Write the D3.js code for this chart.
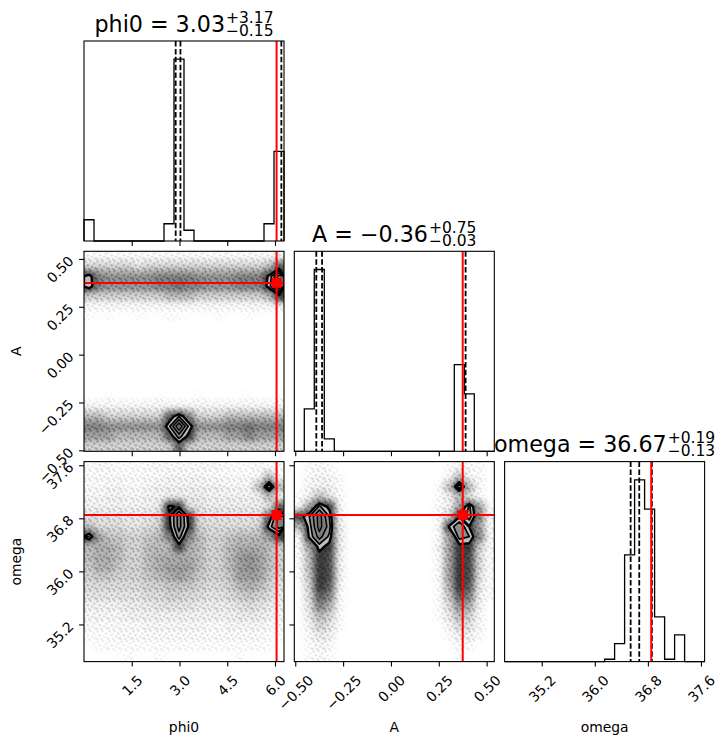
<!DOCTYPE html>
<html>
<head>
<meta charset="utf-8">
<title>corner plot</title>
<script src="https://cdn.jsdelivr.net/npm/d3@7"></script>
<style>
body { margin: 0; background: #fff; }
text { font-family: "DejaVu Sans", sans-serif; fill: #000; }
.axis text { font-size: 13.9px; font-family: "DejaVu Sans", sans-serif; }
.axis line { stroke: #000; stroke-width: 1.1; }
.frame { fill: none; stroke: #000; stroke-width: 1.1; }
.hist { fill: none; stroke: #000; stroke-width: 1.3; }
.quant { stroke: #000; stroke-width: 1.8; stroke-dasharray: 5.5,2.4; }
.truth { stroke: #f00; stroke-width: 2; }
.ct { stroke: #000; stroke-linejoin: round; }
.label { font-size: 13.9px; }
</style>
</head>
<body>
<script>
// parameter names and ranges (range = bin range of the histograms)
var labels = ["phi0", "A", "omega"];
var ranges = [[0, 6.2832], [-0.505, 0.54], [34.64, 37.655]];
var tickVals = [[1.5, 3.0, 4.5, 6.0], [-0.5, -0.25, 0, 0.25, 0.5], [35.2, 36.0, 36.8, 37.6]];
var tickFmt = [".1f", ".2f", ".1f"];
var truths = [6.05, 0.375, 36.85];
var quantiles = [[2.88, 3.03, 6.20], [-0.39, -0.36, 0.39], [36.54, 36.67, 36.86]];
var titleMid = ["3.03", "\u22120.36", "36.67"];
var titlePlus = ["3.17", "0.75", "0.19"];
var titleMinus = ["0.15", "0.03", "0.13"];

// 1d histograms, 20 bins each (relative counts)
var histPhi0 = [117, 0, 0, 0, 0, 0, 0, 0, 95, 1000, 59, 0, 0, 0, 0, 0, 0, 0, 95, 493];
var histA = [0, 233, 1000, 68, 0, 0, 0, 0, 0, 0, 0, 0, 0, 0, 0, 0, 477, 316, 0, 0];
var histOmega = [0, 0, 0, 0, 0, 0, 0, 0, 0, 0, 13, 99, 587, 1000, 839, 246, 13, 147, 0, 0];

// 2d histograms, 20x20, rows from top (high y) to bottom, columns left to right
var gridAPhi0 = [
  [1,1,1,1,1,1,1,1,1,1,1,1,1,1,1,1,1,1,1,1.5],
  [4,4,4,4,4,3,4,4,4,4,4,4,4,4,4,4,4,4,5,8],
  [11,7,6.5,6.5,6.5,6.5,6.5,7,7,7,7,6.5,6.5,6.5,6.5,7,7,7,10.5,17],
  [11.5,7,6.5,6.5,6.5,6.5,6.5,7,7,7.5,7,7,6.5,6.5,6.5,7,7,7,11,18],
  [4,4,4,4,4,4,4,4,5,5,5,4,4,4,4,4,4,4,5,9],
  [1,1,1,1,1,1,1,1,1,1,1,1,1,1,1,1,1,1,1,1.5],
  [0.3,0,0.3,0,0,0.3,0,0,0.3,0.3,0,0,0,0.3,0,0,0.3,0,0,0],
  [0,0,0,0,0,0,0,0,0,0,0,0,0,0,0,0,0,0,0,0],
  [0,0,0,0,0,0,0,0,0,0,0,0,0,0,0,0,0,0,0,0],
  [0,0,0,0,0,0,0,0,0,0,0,0,0,0,0,0,0,0,0,0],
  [0,0,0,0,0,0,0,0,0,0,0,0,0,0,0,0,0,0,0,0],
  [0,0,0,0,0,0,0,0,0,0,0,0,0,0,0,0,0,0,0,0],
  [0,0,0,0,0,0,0,0,0,0,0,0,0,0,0,0,0,0,0,0],
  [0,0,0,0,0,0,0,0,0,0,0,0,0,0,0,0,0,0,0,0],
  [0,0,0.3,0,0,0,0,0.3,0,0,0,0.3,0,0,0,0,0.3,0,0,0.3],
  [1.5,1.5,1.5,1.5,1.5,1.5,1.5,1.5,1.5,1.5,1.5,1.5,1.5,1.5,1.5,1.5,1.5,1.5,1.5,1.5],
  [5,5,4,4,4,4,4,4,8,12,7,4,4,4,5,5,5,5,5,5],
  [7,7,6.5,6.5,6.5,6.5,6.5,6.5,11.5,18,11.5,6.5,6.5,6.5,7,7,7.5,7,7,7],
  [6,6,6,5,5,5,5,5,8,13,9,5,5,5,6,6,7,6,6,6],
  [4,4,4,4,4,4,4,4,4,8,4,4,4,4,4,4,4,4,4,4]
];
var gridOmegaPhi0 = [
  [0.5,1,1,0.5,0.5,0.5,1,1,1,1,1,1,1,1,0.5,0.5,0.5,1,0.5,0.5],
  [1,1,1,1,1,1,1,1,1.5,1.5,1.5,1.5,1,1,1,1,1,1,5,1],
  [1,1,1.5,1.5,1,1,1.5,2,2,2,2,2,2,2,1.5,1.5,1.5,5,14,5],
  [1.5,1.5,2,2,1.5,1.5,2,2,2.5,2.5,2.5,2.5,2,2,2,2,2,2,5,1.5],
  [2,2,2,2,2,2,2,2.5,10.5,9.5,3,3,2.5,2.5,2.5,2.5,2.5,2.5,3,8],
  [3,3,3,3,2.5,2.5,3,3.5,9.5,15,9,3.5,3,3,3,3,3,3,8,15],
  [5,3.5,3.5,3.5,3,3,3.5,4,9,15,9.5,4,3.5,3.5,3.5,3.5,3.5,4,11,15],
  [12,6,4.5,4.5,4,4,4.5,5,7,13,7,5,4,4,4.5,5,5,5,6,9],
  [5,5.5,5.5,5,4,4,5,5,5,9,5.5,5,4,4,5,5.5,5.5,5.5,5,4],
  [5,5.5,5.5,5,4,4,5,5.5,5.5,5.5,5.5,5,4,4,5,6,6.5,6,5,4],
  [4.5,5.5,5.5,4.5,4,4,5,5.5,6,6,6,5,4,4,5,6,6.5,6,5,4],
  [4,4.5,4.5,4,4,4,4.5,5,5.5,6,5.5,4.5,4,4,4.5,6,6,6,4.5,3.5],
  [3.5,3.5,3.5,3.5,3.5,3.5,4,4,4.5,4.5,4.5,4,3.5,3.5,4,5,5.5,5,4,3],
  [3,3,3,3,3,3,3.5,3.5,4,4,3.5,3.5,3,3,3.5,4,4.5,4,3.5,2.5],
  [2,2,2,2,2.5,2.5,2.5,3,3,3,3,2.5,2.5,2.5,2.5,3,3.5,3,2.5,2],
  [1.5,1.5,1.5,1.5,2,2,2,2,2,2,2,2,2,2,2,2.5,2.5,2.5,2,1.5],
  [1,1,1,1,1,1,1.5,1.5,1.5,1.5,1.5,1.5,1,1,1.5,1.5,1.5,1.5,1,1],
  [0.5,0.5,0.5,1,1,1,1,1,1,1,1,1,1,1,1,1,1,1,0.5,0.5],
  [0,0.5,0.5,0.5,0.5,0.5,0.5,0.5,0.5,0.5,0.5,0.5,0.5,0.5,0.5,0.5,0.5,0.5,0.5,0],
  [0,0,0,0,0.5,0,0,0.5,0,0,0,0,0,0,0,0.5,0,0,0,0]
];
var gridOmegaA = [
  [0,0.5,1,0.5,0,0,0,0,0,0,0,0,0,0,0,0.5,1,1,0.5,0],
  [0,1,1.5,1.5,0.5,0,0,0,0,0,0,0,0,0,0,1,5,1,1,0],
  [0,1.5,2,2,0.5,0,0,0,0,0,0,0,0,0,0.5,5,14,5,1,0],
  [0.5,2,5,3,1,0,0,0,0,0,0,0,0,0,0.5,2,5,3,1,0],
  [1,6,12.5,9,1.5,0,0,0,0,0,0,0,0,0,1,2,6,12.5,6,0.5],
  [8.5,12,17,12,2,0,0,0,0,0,0,0,0,0,1,4,9.8,13,7,1],
  [5,11,17,13,2.5,0,0,0,0,0,0,0,0,0,1,10.5,14,9.9,6,1],
  [1,10.5,15,11.5,2.5,0,0,0,0,0,0,0,0,0,1,6,13,12,7,1],
  [1,6,11,9,2.5,0,0,0,0,0,0,0,0,0,2,6,9,9,4,1],
  [0.5,5,9,8.5,2,0,0,0,0,0,0,0,0,0,1,6,9,8.5,3.5,0.5],
  [0.5,5,9,8.5,2,0,0,0,0,0,0,0,0,0,1,6,9,8.5,3.5,0.5],
  [0.5,4.5,9,8.5,2,0,0,0,0,0,0,0,0,0,1,6,9,8.5,3,0.5],
  [0,4,9,8,1.5,0,0,0,0,0,0,0,0,0,0.5,5.5,9,8,2.5,0.5],
  [0,3.5,8,7,1,0,0,0,0,0,0,0,0,0,0.5,4.5,8,7,2,0.5],
  [0,3,7,5.5,1,0,0,0,0,0,0,0,0,0,0.5,3.5,6.5,5.5,1.5,0],
  [0,2.5,5,4,0.5,0,0,0,0,0,0,0,0,0,0.5,2.5,5,4,1,0],
  [0,1.5,4,3,0.5,0,0,0,0,0,0,0,0,0,0,1.5,3.5,3,1,0],
  [0,1,2.5,2,0,0,0,0,0,0,0,0,0,0,0,0.5,2,2,0.5,0],
  [0,0.5,1.5,1,0,0,0,0,0,0,0,0,0,0,0,0,1,0.5,0,0],
  [0,0.5,1,0.5,0,0,0,0,0,0,0,0,0,0,0,0,0.5,0,0,0]
];
var contourLevels = [10, 12, 14, 16];

var hists = [histPhi0, histA, histOmega];
var grids = {"1-0": gridAPhi0, "2-0": gridOmegaPhi0, "2-1": gridOmegaA};

var width = 725, height = 745;
var padLeft = 84, padTop = 41, size = 200, step = 210.3;
var ctFill = ["#bdbdbd", "#8f8f8f", "#7c7c7c", "#6a6a6a"];
var ctWidth = [2.3, 1.7, 1.5, 1.3];

var svg = d3.select("body").append("svg")
  .attr("width", width)
  .attr("height", height);

var defs = svg.append("defs");
defs.append("filter").attr("id", "blur")
  .attr("x", "-20%").attr("y", "-20%").attr("width", "140%").attr("height", "140%")
  .append("feGaussianBlur").attr("stdDeviation", 3.4);

var pat = defs.append("pattern").attr("id", "speckle")
  .attr("patternUnits", "userSpaceOnUse")
  .attr("width", 12).attr("height", 10);
[[1.5,1.5],[6.5,0.8],[10.2,3.6],[3.8,5.2],[8.1,6.6],[0.9,8.7],[5.3,9.3],[11.3,8.2]].forEach(function(p) {
  pat.append("circle").attr("cx", p[0]).attr("cy", p[1]).attr("r", 1.2)
    .attr("fill", "#000").attr("fill-opacity", 0.32);
});

function xScale(j) {
  var x0 = padLeft + j * step;
  return d3.scaleLinear().domain(ranges[j]).range([x0, x0 + size]);
}
function yScale(i) {
  var y0 = padTop + i * step;
  return d3.scaleLinear().domain(ranges[i]).range([y0 + size, y0]);
}

// shade of one cell of the point cloud
var shadeBase = function(v) { return Math.pow(Math.min(v, 9) / 9, 2) * 0.8; };
var shadeMask = function(v) { return Math.sqrt(Math.min(v, 9) / 9); };

function cellRects(g, xs, ys, grid, color, shade) {
  var nx = grid[0].length, ny = grid.length;
  var x0 = xs.domain()[0], x1 = xs.domain()[1];
  var y0 = ys.domain()[0], y1 = ys.domain()[1];
  var dx = (x1 - x0) / nx, dy = (y1 - y0) / ny;
  var cells = [];
  grid.forEach(function(row, r) {
    row.forEach(function(v, c) { if (v > 0) cells.push({r: r, c: c, v: v}); });
  });
  g.selectAll("rect").data(cells).join("rect")
    .attr("x", function(d) { return xs(x0 + d.c * dx) - (d.c === 0 ? 12 : 0); })
    .attr("y", function(d) { return ys(y1 - d.r * dy) - (d.r === 0 ? 12 : 0); })
    .attr("width", function(d) { return xs(x0 + (d.c + 1) * dx) - xs(x0 + d.c * dx) + (d.c === 0 || d.c === nx - 1 ? 12 : 0); })
    .attr("height", function(d) { return ys(y1 - (d.r + 1) * dy) - ys(y1 - d.r * dy) + (d.r === 0 || d.r === ny - 1 ? 12 : 0); })
    .attr("fill", color)
    .attr("fill-opacity", function(d) { return shade(d.v); });
}

function draw2d(g, i, j, xs, ys, grid) {
  var id = "p" + i + j;
  defs.append("clipPath").attr("id", "c" + id)
    .append("rect").attr("x", xs.range()[0]).attr("y", ys.range()[1])
    .attr("width", size).attr("height", size);

  // point cloud as a blurred density with a speckle texture
  var mask = defs.append("mask").attr("id", "m" + id)
    .attr("maskUnits", "userSpaceOnUse")
    .attr("x", 0).attr("y", 0).attr("width", width).attr("height", height);
  cellRects(mask.append("g").attr("filter", "url(#blur)"), xs, ys, grid, "#fff", shadeMask);

  var cg = g.append("g").attr("clip-path", "url(#c" + id + ")");
  cellRects(cg.append("g").attr("filter", "url(#blur)"), xs, ys, grid, "#000", shadeBase);
  cg.append("rect")
    .attr("x", xs.range()[0]).attr("y", ys.range()[1])
    .attr("width", size).attr("height", size)
    .attr("fill", "url(#speckle)")
    .attr("mask", "url(#m" + id + ")");

  // contours of the same histogram
  var nx = grid[0].length, ny = grid.length;
  var x0 = xs.domain()[0], x1 = xs.domain()[1];
  var y0 = ys.domain()[0], y1 = ys.domain()[1];
  var dx = (x1 - x0) / nx, dy = (y1 - y0) / ny;
  var cs = d3.contours().size([nx, ny]).thresholds(contourLevels)(grid.flat());
  var proj = d3.geoTransform({
    point: function(px, py) { this.stream.point(xs(x0 + px * dx), ys(y1 - py * dy)); }
  });
  var path = d3.geoPath(proj);
  cg.selectAll("path.ct").data(cs).join("path")
    .attr("class", "ct")
    .attr("d", path)
    .attr("fill", function(d, k) { return ctFill[k]; })
    .attr("stroke-width", function(d, k) { return ctWidth[k]; });

  // truth lines and marker
  cg.append("line").attr("class", "truth")
    .attr("x1", xs(truths[j])).attr("x2", xs(truths[j]))
    .attr("y1", ys.range()[0]).attr("y2", ys.range()[1]);
  cg.append("line").attr("class", "truth")
    .attr("x1", xs.range()[0]).attr("x2", xs.range()[1])
    .attr("y1", ys(truths[i])).attr("y2", ys(truths[i]));
  g.append("rect")
    .attr("x", xs(truths[j]) - 5).attr("y", ys(truths[i]) - 5)
    .attr("width", 10).attr("height", 10).attr("fill", "#f00");
}

function drawHist(g, i, xs) {
  var counts = hists[i];
  var ymax = d3.max(counts) * 1.1;
  var y0 = padTop + i * step;
  var ys = d3.scaleLinear().domain([0, ymax]).range([y0 + size, y0]);
  var n = counts.length;
  var x0 = ranges[i][0], dx = (ranges[i][1] - ranges[i][0]) / n;
  var pts = [[x0, 0]];
  counts.forEach(function(c, k) {
    pts.push([x0 + k * dx, c]);
    pts.push([x0 + (k + 1) * dx, c]);
  });
  pts.push([x0 + n * dx, 0]);
  g.append("path").attr("class", "hist")
    .attr("d", d3.line().x(function(p) { return xs(p[0]); }).y(function(p) { return ys(p[1]); })(pts));

  g.selectAll("line.quant").data(quantiles[i]).join("line")
    .attr("class", "quant")
    .attr("x1", function(q) { return xs(q); }).attr("x2", function(q) { return xs(q); })
    .attr("y1", y0).attr("y2", y0 + size);

  g.append("line").attr("class", "truth")
    .attr("x1", xs(truths[i])).attr("x2", xs(truths[i]))
    .attr("y1", y0).attr("y2", y0 + size);

  // title: label = value with errors as super/subscripts
  var tg = g.append("g");
  var main = tg.append("text").attr("font-size", "22.2px")
    .text(labels[i] + " = " + titleMid[i]);
  var mw = main.node().getComputedTextLength();
  var sup = tg.append("text").attr("font-size", "15.5px").attr("x", mw + 1).attr("y", -9)
    .text("+" + titlePlus[i]);
  var sub = tg.append("text").attr("font-size", "15.5px").attr("x", mw + 1).attr("y", 4)
    .text("\u2212" + titleMinus[i]);
  var tw = mw + 1 + Math.max(sup.node().getComputedTextLength(), sub.node().getComputedTextLength());
  tg.attr("transform", "translate(" + (xs.range()[0] + size / 2 - tw / 2) + "," + (y0 - 9.3) + ")");
}

function rotateBottom(sel) {
  sel.selectAll("text").each(function() {
    var L = this.getComputedTextLength();
    d3.select(this).attr("y", null).attr("dy", null)
      .attr("text-anchor", "end")
      .attr("dominant-baseline", "central")
      .attr("transform", "translate(" + (L * 0.354) + ",16) rotate(-45)");
  });
}
function rotateLeft(sel) {
  sel.selectAll("text").each(function() {
    d3.select(this).attr("x", null).attr("dy", null)
      .attr("text-anchor", "end")
      .attr("dominant-baseline", "central")
      .attr("transform", "translate(-13,-1) rotate(-45)");
  });
}

for (var i = 0; i < 3; i++) {
  for (var j = 0; j <= i; j++) {
    var g = svg.append("g");
    var xs = xScale(j);
    var y0 = padTop + i * step;
    if (i === j) {
      drawHist(g, i, xs);
    } else {
      draw2d(g, i, j, xs, yScale(i), grids[i + "-" + j]);
    }

    // x axis
    var xa = d3.axisBottom(xs).tickValues(tickVals[j]).tickSize(4.9).tickSizeOuter(0)
      .tickFormat(i === 2 ? d3.format(tickFmt[j]) : "");
    var xg = g.append("g").attr("class", "axis")
      .attr("transform", "translate(0," + (y0 + size) + ")")
      .call(xa);
    xg.select(".domain").remove();
    if (i === 2) rotateBottom(xg);

    // y axis on 2d panels
    if (i !== j) {
      var ya = d3.axisLeft(yScale(i)).tickValues(tickVals[i]).tickSize(4.9).tickSizeOuter(0)
        .tickFormat(j === 0 ? d3.format(tickFmt[i]) : "");
      var yg = g.append("g").attr("class", "axis")
        .attr("transform", "translate(" + xs.range()[0] + ",0)")
        .call(ya);
      yg.select(".domain").remove();
      if (j === 0) rotateLeft(yg);
    }

    g.append("rect").attr("class", "frame")
      .attr("x", xs.range()[0]).attr("y", y0)
      .attr("width", size).attr("height", size);
  }
}

// axis labels
labels.forEach(function(lab, k) {
  svg.append("text").attr("class", "label")
    .attr("x", padLeft + k * step + size / 2).attr("y", 731.5)
    .attr("text-anchor", "middle")
    .text(lab);
});
labels.slice(1).forEach(function(lab, k) {
  var cy = padTop + (k + 1) * step + size / 2;
  svg.append("text").attr("class", "label")
    .attr("transform", "translate(21," + cy + ") rotate(-90)")
    .attr("text-anchor", "middle")
    .text(lab);
});
</script>
</body>
</html>
